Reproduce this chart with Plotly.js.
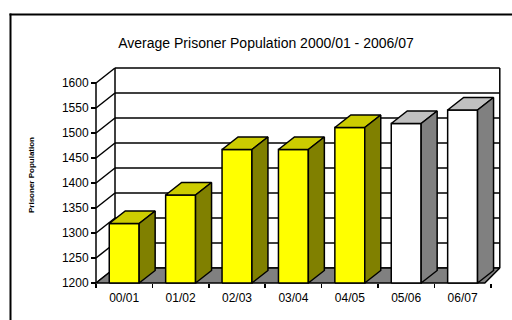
<!DOCTYPE html>
<html>
<head>
<meta charset="utf-8">
<script src="https://cdn.plot.ly/plotly-3.0.1.min.js"></script>
<style>
  html, body { margin: 0; padding: 0; background: #fff; }
  #chart { width: 512px; height: 320px; }
</style>
</head>
<body>
<div id="chart"></div>
<script>
// Average prisoner population by financial year
const categories = ['00/01', '01/02', '02/03', '03/04', '04/05', '05/06', '06/07'];
const population = [1319, 1376, 1467, 1467, 1511, 1519, 1546];
// first five years are actuals (yellow), last two are projections (white)
const isProjection = [false, false, false, false, false, true, true];
const yTicks = [1200, 1250, 1300, 1350, 1400, 1450, 1500, 1550, 1600];

const yMin = 1200, yMax = 1600;

// pseudo-3D geometry, in axis units
const PX_PER_CAT = 56.4;        // pixels per category
const PX_PER_VAL = 0.5;         // pixels per population unit
const wallDy = 15 / PX_PER_VAL;                  // depth of the chart box (vertical)
const wallDxL = 19 / PX_PER_CAT;                 // depth at the left side
const wallDxR = 15 / PX_PER_CAT;                 // depth at the right side (perspective)
const barDx = 16 / PX_PER_CAT, barDy = 12.5 / PX_PER_VAL;  // depth of each column
const halfW = 0.265;

const palette = {
  actual:     { front: '#FFFF00', top: '#CCCC00', side: '#808000' },
  projection: { front: '#FFFFFF', top: '#C0C0C0', side: '#808080' }
};

const edge = { color: '#000', width: 1.5 };
const traces = [];

function poly(pts, fill) {
  const xs = pts.map(p => p[0]), ys = pts.map(p => p[1]);
  xs.push(pts[0][0]); ys.push(pts[0][1]);
  traces.push({
    type: 'scatter', mode: 'lines', x: xs, y: ys,
    fill: 'toself', fillcolor: fill, line: edge,
    hoverinfo: 'skip', showlegend: false
  });
}

// box corners
const xL = -0.5, xR = categories.length - 0.5;
const boxR = xR - 6 / PX_PER_CAT;          // front-right floor corner
const backL = xL + wallDxL, backR = boxR + wallDxR;

// walls: gridlines on back wall, diagonals on side wall, box edges
const gx = [], gy = [];
yTicks.forEach(t => {
  gx.push(backL, backR, null); gy.push(t + wallDy, t + wallDy, null);
  gx.push(xL, backL, null);    gy.push(t, t + wallDy, null);
});
gx.push(xL, xL, null);       gy.push(yMin, yMax, null);
gx.push(backL, backL, null); gy.push(yMin + wallDy, yMax + wallDy, null);
gx.push(backR, backR, null); gy.push(yMin + wallDy, yMax + wallDy, null);
traces.push({ type: 'scatter', mode: 'lines', x: gx, y: gy, line: edge,
              hoverinfo: 'skip', showlegend: false });

// floor
poly([[xL, yMin], [boxR, yMin], [backR, yMin + wallDy], [backL, yMin + wallDy]], '#808080');

// columns
population.forEach((v, i) => {
  const c = isProjection[i] ? palette.projection : palette.actual;
  const a = i - halfW, b = i + halfW;
  poly([[a, yMin], [b, yMin], [b, v], [a, v]], c.front);
  poly([[a, v], [b, v], [b + barDx, v + barDy], [a + barDx, v + barDy]], c.top);
  poly([[b, yMin], [b + barDx, yMin + barDy], [b + barDx, v + barDy], [b, v]], c.side);
});

// axis placement
const W = 512, H = 320;
const mL = 94, mR = 0, mT = 50, mB = 35;
const plotW = W - mL - mR, plotH = H - mT - mB;
const frontLeftPx = 96, floorPx = 283;
const x0 = xL - (frontLeftPx - mL) / PX_PER_CAT;
const y0 = yMin - ((H - mB) - floorPx) / PX_PER_VAL;

const font = { family: 'Liberation Sans, Arial, sans-serif', color: '#000' };
const px = p => (p - mL) / plotW;
const py = p => ((H - mB) - p) / plotH;

// chart frame: only its left and top edges fall inside the page
const frame = { color: '#000', width: 2 };

const layout = {
  width: W, height: H,
  margin: { l: mL, r: mR, t: mT, b: mB },
  paper_bgcolor: '#fff', plot_bgcolor: '#fff',
  font: Object.assign({ size: 12 }, font),
  title: {
    text: 'Average Prisoner Population 2000/01 - 2006/07',
    x: 266 / W, xref: 'container', xanchor: 'center',
    y: 1 - 43 / H, yref: 'container', yanchor: 'middle',
    font: Object.assign({ size: 14 }, font)
  },
  xaxis: {
    range: [x0, x0 + plotW / PX_PER_CAT],
    anchor: 'free', position: ((H - mB) - floorPx) / plotH,
    tickmode: 'array', tickvals: categories.map((_, i) => i), ticktext: categories,
    ticks: '', showgrid: false, zeroline: false, showline: false,
    ticklabelstandoff: 6,
    tickfont: Object.assign({ size: 12 }, font),
    minor: { tickmode: 'array', tickvals: categories.map((_, i) => i - 0.5).concat([xR]),
             ticks: 'outside', ticklen: 4, tickwidth: 1.5, tickcolor: '#000', showgrid: false },
    fixedrange: true
  },
  yaxis: {
    range: [y0, y0 + plotH / PX_PER_VAL],
    anchor: 'free', position: (frontLeftPx - mL) / plotW,
    tickmode: 'array', tickvals: yTicks,
    ticks: 'outside', ticklen: 5, tickwidth: 1.5, tickcolor: '#000',
    showgrid: false, zeroline: false, showline: false,
    tickfont: Object.assign({ size: 12 }, font),
    fixedrange: true
  },
  annotations: [{
    text: '<b>Prisoner Population</b>', textangle: -90,
    xref: 'paper', yref: 'paper', x: px(31), y: py(175),
    xanchor: 'center', yanchor: 'middle', showarrow: false,
    font: Object.assign({ size: 8 }, font)
  }],
  shapes: [
    { type: 'line', xref: 'paper', yref: 'paper', layer: 'above',
      x0: px(10.5), x1: px(10.5), y0: py(13.5), y1: py(330), line: frame },
    { type: 'line', xref: 'paper', yref: 'paper', layer: 'above',
      x0: px(9.5), x1: px(530), y0: py(14.5), y1: py(14.5), line: frame }
  ]
};

Plotly.newPlot('chart', traces, layout, { staticPlot: true, displayModeBar: false });
</script>
</body>
</html>
